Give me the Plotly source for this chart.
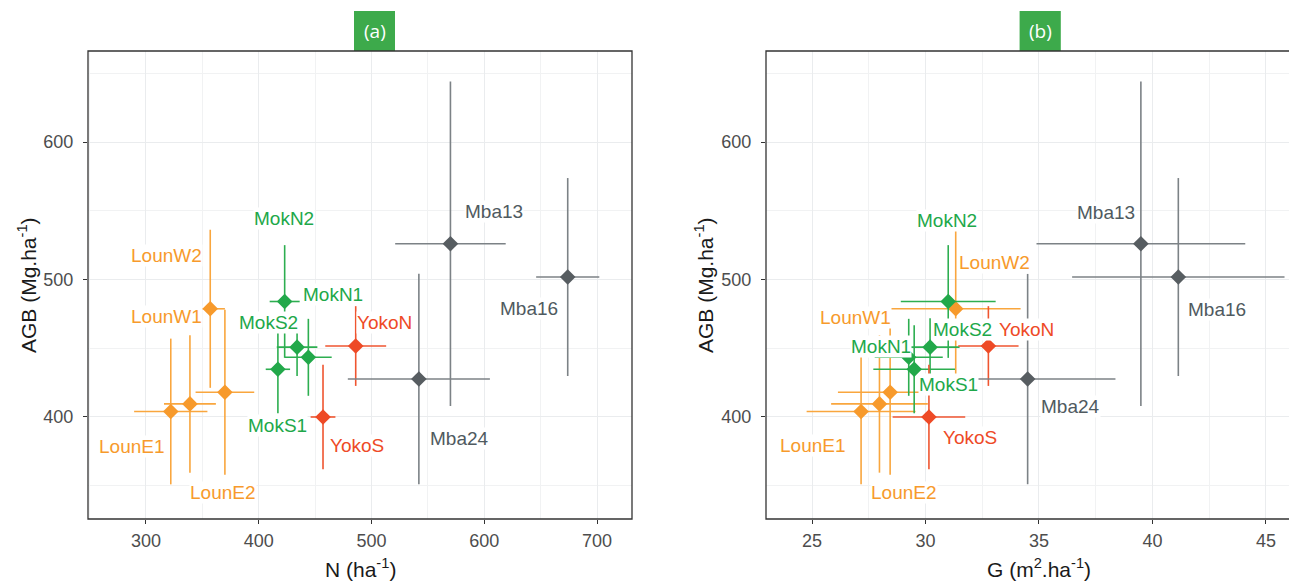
import plotly.graph_objects as go

# ---------------- data ----------------
sites = ["LounE1", "LounE2", "LounW1", "LounW2",
         "MokN1", "MokN2", "MokS1", "MokS2",
         "YokoN", "YokoS",
         "Mba13", "Mba16", "Mba24"]
groups = ["Loun", "Loun", "Loun", "Loun",
          "Mok", "Mok", "Mok", "Mok",
          "Yoko", "Yoko",
          "Mba", "Mba", "Mba"]
N_vals = [322, 339, 370, 357, 444, 423, 417, 434, 486, 457, 570, 674, 542]
N_sd = [32.5, 23, 26, 13, 20.7, 13.3, 10.8, 18, 27, 11, 49, 28, 63]
G_vals = [27.16, 27.97, 28.44, 31.33, 29.26, 31.0, 29.5, 30.2, 32.77, 30.15, 39.49, 41.14, 34.5]
G_sd = [2.4, 2.13, 2.3, 2.86, 1.5, 2.09, 1.8, 1.3, 1.33, 1.6, 4.6, 4.68, 3.87]
AGB_vals = [404, 409.5, 418, 478.7, 443.4, 484, 434.7, 450.8, 451.6, 400, 526, 501.8, 427.6]
AGB_sd = [53, 50, 60, 57.5, 28, 41, 32, 21, 29, 38, 118, 72, 76.5]

x_ticks_a = [300, 400, 500, 600, 700]
x_ticks_b = [25, 30, 35, 40, 45]
y_ticks = [400, 500, 600]

# ---------------- styles ----------------
POINT_COL = {"Loun": "#F79A2C", "Mok": "#22A84A", "Yoko": "#EE4A26", "Mba": "#575D61"}
LINE_COL = {"Loun": "#F9A63E", "Mok": "#2DAE50", "Yoko": "#EF5530", "Mba": "#7C8286"}
TEXT_COL = {"Loun": "#F79A2C", "Mok": "#1EA84A", "Yoko": "#EE4A26", "Mba": "#4F5A60"}
group_order = ["Loun", "Mok", "Yoko", "Mba"]

# label pixel offsets relative to their point (x right, y up)
LABEL_OFF_A = {"LounW2": (-44, 53), "LounW1": (-58, 76), "LounE1": (-39, -35), "LounE2": (33, -89),
               "MokN2": (-1, 83), "MokN1": (25, 63), "MokS2": (-29, 25), "MokS1": (0, -56),
               "YokoN": (29, 24), "YokoS": (34, -29),
               "Mba13": (44, 32), "Mba16": (-39, -31), "Mba24": (41, -59)}
LABEL_OFF_B = {"MokN2": (-1, 81), "LounW2": (39, 46), "LounW1": (-35, 75), "MokS2": (32, 18),
               "YokoN": (38, 17), "MokN1": (-28, 11), "MokS1": (34, -15), "Mba24": (43, -27),
               "YokoS": (41, -21), "LounE1": (-48, -34), "LounE2": (25, -89),
               "Mba13": (-35, 31), "Mba16": (39, -32)}

FONT = "Liberation Sans, Arial, sans-serif"
OFF = 8  # page body margin
W, H = 1297 - OFF, 581 - OFF
ML, MT = 88 - OFF, 51 - OFF
MB = 581 - 519
MR = 0
PW = W - ML - MR
PH = H - MT - MB


def px2paper(px, py):
    # px, py are window pixel coordinates
    px -= OFF
    py -= OFF
    return (px - ML) / PW, (H - MB - py) / PH


fig = go.Figure()

for panel, xvals, xsd, xa, ya in [("a", N_vals, N_sd, "x", "y"), ("b", G_vals, G_sd, "x2", "y2")]:
    for g in group_order:
        idx = [i for i, gg in enumerate(groups) if gg == g]
        fig.add_trace(go.Scatter(
            x=[xvals[i] for i in idx],
            y=[AGB_vals[i] for i in idx],
            text=[sites[i] for i in idx],
            mode="markers",
            xaxis=xa, yaxis=ya,
            marker=dict(symbol="diamond", size=12, color=POINT_COL[g], line=dict(width=0)),
            error_x=dict(type="data", array=[xsd[i] for i in idx], color=LINE_COL[g],
                         thickness=1.6, width=0),
            error_y=dict(type="data", array=[AGB_sd[i] for i in idx], color=LINE_COL[g],
                         thickness=1.6, width=0),
            showlegend=False, hoverinfo="text",
        ))

annotations = []
for panel, xvals, offs, xa, ya in [("a", N_vals, LABEL_OFF_A, "x", "y"),
                                   ("b", G_vals, LABEL_OFF_B, "x2", "y2")]:
    for i, s in enumerate(sites):
        dx, dy = offs[s]
        annotations.append(dict(
            x=xvals[i], y=AGB_vals[i], xref=xa, yref=ya, text=s, showarrow=False,
            xshift=dx, yshift=dy, xanchor="center", yanchor="middle",
            font=dict(family=FONT, size=19, color=TEXT_COL[groups[i]]),
            bgcolor="white", borderpad=0,
        ))

# axis titles
for txt, px, py, ang in [("AGB (Mg.ha<sup>-1</sup>)", 27, 285, -90),
                         ("AGB (Mg.ha<sup>-1</sup>)", 704, 285, -90),
                         ("N (ha<sup>-1</sup>)", 360, 568, 0),
                         ("G (m<sup>2</sup>.ha<sup>-1</sup>)", 1039, 568, 0)]:
    xp, yp = px2paper(px, py)
    annotations.append(dict(x=xp, y=yp, xref="paper", yref="paper", text=txt, showarrow=False,
                            textangle=ang, xanchor="center", yanchor="middle",
                            font=dict(family=FONT, size=21, color="#1A1A1A")))

shapes = []
# panel title boxes
for lab, x0, x1 in [("(a)", 354, 395), ("(b)", 1019.6, 1060.8)]:
    px0, py0 = px2paper(x0, 51)
    px1, py1 = px2paper(x1, 11)
    shapes.append(dict(type="rect", xref="paper", yref="paper", x0=px0, x1=px1, y0=py0, y1=py1,
                       fillcolor="#3DAA4B", line=dict(width=0), layer="above"))
    annotations.append(dict(x=(px0 + px1) / 2, y=(py0 + py1) / 2, xref="paper", yref="paper",
                            text=lab, showarrow=False, xanchor="center", yanchor="middle",
                            font=dict(family="Open Sans, sans-serif", size=19, color="white")))

a_right = (632 - 88) / PW
b_left = (766 - 88) / PW

# panel borders (paper coordinates; right panel runs past the page edge)
shapes.append(dict(type="rect", xref="paper", yref="paper", x0=0, x1=a_right, y0=0, y1=1,
                   line=dict(color="#333333", width=1.3), layer="above"))
shapes.append(dict(type="rect", xref="paper", yref="paper", x0=b_left, x1=1.03, y0=0, y1=1,
                   line=dict(color="#333333", width=1.3), layer="above"))

grid_major = "#EAECEE"
grid_minor = "#F1F2F3"
common_axis = dict(showline=False, zeroline=False, ticks="outside", ticklen=4, tickwidth=1.2,
                   tickcolor="#333333", showgrid=True, gridcolor=grid_major, gridwidth=1.3,
                   tickfont=dict(family=FONT, size=18, color="#4D4D4D"))

fig.update_layout(
    width=W, height=H, autosize=False,
    margin=dict(l=ML, r=MR, t=MT, b=MB, pad=0),
    plot_bgcolor="white", paper_bgcolor="white",
    xaxis=dict(domain=[0, a_right], range=[248.6, 731], tickvals=x_ticks_a,
               minor=dict(tickvals=[250, 350, 450, 550, 650], showgrid=True,
                          gridcolor=grid_minor, gridwidth=0.8, ticks=""),
               anchor="y", ticklabelstandoff=1, **common_axis),
    yaxis=dict(domain=[0, 1], range=[325.8, 666.2], tickvals=y_ticks,
               minor=dict(tickvals=[350, 450, 550, 650], showgrid=True,
                          gridcolor=grid_minor, gridwidth=0.8, ticks=""),
               anchor="x", ticklabelstandoff=6, **common_axis),
    xaxis2=dict(domain=[b_left, 1], range=[22.97, 46.37], tickvals=x_ticks_b,
                minor=dict(tickvals=[22.5, 27.5, 32.5, 37.5, 42.5], showgrid=True,
                           gridcolor=grid_minor, gridwidth=0.8, ticks=""),
                anchor="y2", ticklabelstandoff=1, **common_axis),
    yaxis2=dict(domain=[0, 1], range=[325.8, 666.2], tickvals=y_ticks,
                minor=dict(tickvals=[350, 450, 550, 650], showgrid=True,
                           gridcolor=grid_minor, gridwidth=0.8, ticks=""),
                anchor="x2", ticklabelstandoff=6, **common_axis),
    annotations=annotations,
    shapes=shapes,
)

fig.write_html("out.html")
